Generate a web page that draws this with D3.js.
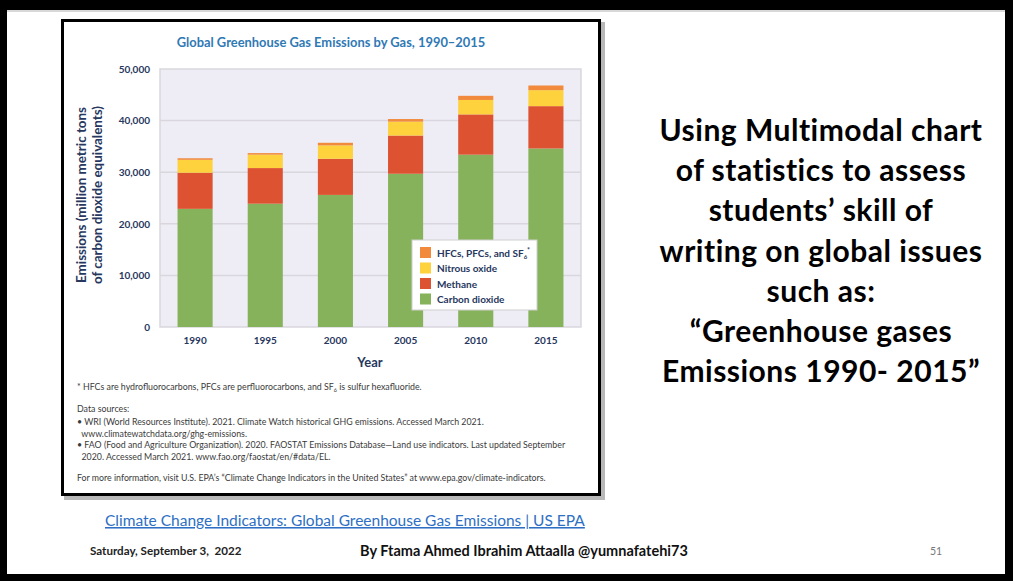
<!DOCTYPE html>
<html>
  <head>
    <meta charset="utf-8">
    <title>Global Greenhouse Gas Emissions by Gas</title>
    <style>
    body{
      margin: 0;
      background-color: white;
    }
    svg{
      display: block;
    }
    </style>
    <script src="https://d3js.org/d3.v7.min.js"></script>
  </head>
  <body>
    <div id="container"></div>
    <script>
    //size of the whole slide
    const width = 1013,
          height = 581;

    //data (million metric tons CO2 equivalent)
    var years = ["1990", "1995", "2000", "2005", "2010", "2015"];
    var carbonDioxide = [22900, 23900, 25600, 29700, 33400, 34600];
    var methane = [7000, 6900, 7000, 7400, 7800, 8200];
    var nitrousOxide = [2500, 2600, 2600, 2700, 2800, 3100];
    var fluorinated = [300, 300, 500, 500, 800, 900];
    var yTicks = [0, 10000, 20000, 30000, 40000, 50000];

    var gasNames = ["Carbon dioxide", "Methane", "Nitrous oxide", "HFCs, PFCs, and SF6*"];
    var gasColors = ["#86b25b", "#dd5230", "#fdd23c", "#f18a3c"];

    var navy = "#27375e";

    var svg = d3.select("#container")
      .append("svg")
      .attr("width", width)
      .attr("height", height);

    //slide frame: thick black edges
    svg.append("rect").attr("x", 0).attr("y", 0).attr("width", width).attr("height", height).attr("fill", "black");
    svg.append("rect").attr("x", 7).attr("y", 10).attr("width", 998).attr("height", 564).attr("fill", "#d8d8d8");
    svg.append("rect").attr("x", 7).attr("y", 12).attr("width", 998).attr("height", 562).attr("fill", "white");

    //chart picture frame with shadow
    svg.append("rect").attr("x", 64).attr("y", 22).attr("width", 541).attr("height", 478).attr("fill", "#b8b8b8");
    svg.append("rect").attr("x", 61).attr("y", 19).attr("width", 540).attr("height", 477).attr("fill", "black");
    svg.append("rect").attr("x", 64).attr("y", 22).attr("width", 534).attr("height", 471).attr("fill", "white");

    //chart title
    svg.append("text")
      .attr("x", 331).attr("y", 47)
      .attr("text-anchor", "middle")
      .style("font-family", "Lato")
      .style("font-weight", "bold")
      .style("font-size", "12.9px")
      .attr("fill", "#2f79b5")
      .text("Global Greenhouse Gas Emissions by Gas, 1990–2015");

    //plot area
    const plot = {left: 160, right: 581, top: 68, bottom: 327};

    var x = d3.scaleBand()
      .domain(years)
      .range([plot.left, plot.right])
      .paddingInner(0.5)
      .paddingOuter(0.25);

    var y = d3.scaleLinear()
      .domain([0, 50000])
      .range([plot.bottom, plot.top + 1]);

    svg.append("rect")
      .attr("x", plot.left).attr("y", y(50000))
      .attr("width", plot.right - plot.left).attr("height", y(0) - y(50000))
      .attr("fill", "#eeecf4")
      .attr("stroke", "#d9d7dd")
      .attr("stroke-width", 1.5);

    //gridlines
    svg.selectAll(".grid")
      .data(yTicks.slice(1, -1))
      .enter()
      .append("line")
      .attr("x1", plot.left).attr("x2", plot.right)
      .attr("y1", function(d) {return y(d);})
      .attr("y2", function(d) {return y(d);})
      .attr("stroke", "#d9d7dd")
      .attr("stroke-width", 1.5);

    //stacked bars
    var table = years.map(function(yr, i) {
      return {year: yr, co2: carbonDioxide[i], ch4: methane[i], n2o: nitrousOxide[i], fgas: fluorinated[i]};
    });
    var keys = ["co2", "ch4", "n2o", "fgas"];
    var stacked = d3.stack().keys(keys)(table);

    svg.selectAll(".layer")
      .data(stacked)
      .enter()
      .append("g")
      .attr("fill", function(d, i) {return gasColors[i];})
      .selectAll("rect")
      .data(function(d) {return d;})
      .enter()
      .append("rect")
      .attr("x", function(d) {return x(d.data.year);})
      .attr("y", function(d) {return y(d[1]);})
      .attr("width", x.bandwidth())
      .attr("height", function(d) {return y(d[0]) - y(d[1]);});

    //y axis labels
    var yAxis = d3.axisLeft(y)
      .tickValues(yTicks)
      .tickSize(0)
      .tickPadding(10)
      .tickFormat(d3.format(","));
    var yg = svg.append("g")
      .attr("transform", "translate(" + plot.left + ",0)")
      .call(yAxis);
    yg.select(".domain").remove();
    yg.selectAll("text")
      .style("font-family", "Lato")
      .style("font-weight", "bold")
      .style("font-size", "10px")
      .attr("fill", navy);

    //x axis labels
    var xAxis = d3.axisBottom(x).tickSize(0).tickPadding(10);
    var xg = svg.append("g")
      .attr("transform", "translate(0," + plot.bottom + ")")
      .call(xAxis);
    xg.select(".domain").remove();
    xg.selectAll("text")
      .style("font-family", "Lato")
      .style("font-weight", "bold")
      .style("font-size", "10px")
      .attr("fill", navy);

    //axis titles
    svg.append("text")
      .attr("x", 370).attr("y", 367)
      .attr("text-anchor", "middle")
      .style("font-family", "Lato")
      .style("font-weight", "bold")
      .style("font-size", "13px")
      .attr("fill", navy)
      .text("Year");

    var yTitle = svg.append("text")
      .attr("transform", "translate(86,195) rotate(-90)")
      .attr("text-anchor", "middle")
      .style("font-family", "Lato")
      .style("font-weight", "bold")
      .style("font-size", "13.4px")
      .attr("fill", navy);
    yTitle.append("tspan").attr("x", 0).attr("dy", 0).text("Emissions (million metric tons");
    yTitle.append("tspan").attr("x", 0).attr("dy", 16).text("of carbon dioxide equivalents)");

    //legend
    var legend = svg.append("g").attr("transform", "translate(412,240)");
    legend.append("rect")
      .attr("width", 125).attr("height", 70)
      .attr("fill", "white")
      .attr("stroke", "#cfcfcf");
    var legendOrder = [3, 2, 1, 0];
    var rows = legend.selectAll(".row")
      .data(legendOrder)
      .enter()
      .append("g")
      .attr("transform", function(d, i) {return "translate(8," + (7 + i * 15.5) + ")";});
    rows.append("rect")
      .attr("width", 11).attr("height", 11)
      .attr("fill", function(d) {return gasColors[d];});
    var legendText = rows.append("text")
      .attr("x", 17).attr("y", 9.5)
      .style("font-family", "Lato")
      .style("font-weight", "bold")
      .style("font-size", "10px")
      .attr("fill", navy);
    legendText.filter(function(d) {return d !== 3;}).text(function(d) {return gasNames[d];});
    var fText = legendText.filter(function(d) {return d === 3;});
    fText.append("tspan").text("HFCs, PFCs, and SF");
    fText.append("tspan").attr("dy", 2).style("font-size", "6px").text("6");
    fText.append("tspan").attr("dy", -6).style("font-size", "7px").text("*");

    //footnotes
    var notes = [
      {y: 390, t: "* HFCs are hydrofluorocarbons, PFCs are perfluorocarbons, and SF"},
      {y: 412, t: "Data sources:"},
      {y: 425, t: "• WRI (World Resources Institute). 2021. Climate Watch historical GHG emissions. Accessed March 2021."},
      {y: 437, t: "  www.climatewatchdata.org/ghg-emissions."},
      {y: 448, t: "• FAO (Food and Agriculture Organization). 2020. FAOSTAT Emissions Database—Land use indicators. Last updated September"},
      {y: 460, t: "  2020. Accessed March 2021. www.fao.org/faostat/en/#data/EL."},
      {y: 481, t: "For more information, visit U.S. EPA’s “Climate Change Indicators in the United States” at www.epa.gov/climate-indicators."}
    ];
    var noteText = svg.selectAll(".note")
      .data(notes)
      .enter()
      .append("text")
      .attr("x", 77)
      .attr("y", function(d) {return d.y;})
      .style("font-family", "Lato")
      .style("font-size", "8.8px")
      .style("white-space", "pre")
      .attr("fill", "#3a3a3a")
      .text(function(d) {return d.t;});
    var first = noteText.filter(function(d, i) {return i === 0;});
    first.append("tspan").attr("dy", 2).style("font-size", "5.5px").text("6");
    first.append("tspan").attr("dy", -2).text(" is sulfur hexafluoride.");

    //slide text on the right
    var slideLines = ["Using Multimodal chart", "of statistics to assess", "students’ skill of",
      "writing on global issues", "such as:", "“Greenhouse gases", "Emissions 1990- 2015”"];
    svg.selectAll(".slide")
      .data(slideLines)
      .enter()
      .append("text")
      .attr("x", 821)
      .attr("y", function(d, i) {return 141 + i * 40.2;})
      .attr("text-anchor", "middle")
      .style("font-family", "Lato")
      .style("font-weight", "bold")
      .style("font-size", "30px")
      .style("letter-spacing", "0.5px")
      .attr("fill", "black")
      .text(function(d) {return d;});

    //link and footer
    svg.append("text")
      .attr("x", 105).attr("y", 526)
      .style("font-family", "Lato")
      .style("font-size", "15.5px")
      .style("text-decoration", "underline")
      .attr("fill", "#2e6fc4")
      .text("Climate Change Indicators: Global Greenhouse Gas Emissions | US EPA");

    svg.append("text")
      .attr("x", 90).attr("y", 555)
      .style("font-family", "Lato")
      .style("font-weight", "bold")
      .style("font-size", "11.6px")
      .attr("fill", "#222")
      .style("white-space", "pre")
      .text("Saturday, September 3,  2022");

    svg.append("text")
      .attr("x", 360).attr("y", 556)
      .style("font-family", "Lato")
      .style("font-weight", "bold")
      .style("font-size", "14.5px")
      .attr("fill", "#111")
      .text("By Ftama Ahmed Ibrahim Attaalla @yumnafatehi73");

    svg.append("text")
      .attr("x", 930).attr("y", 555)
      .style("font-family", "Lato")
      .style("font-size", "10.5px")
      .attr("fill", "#777")
      .text("51");
    </script>
  </body>
</html>
